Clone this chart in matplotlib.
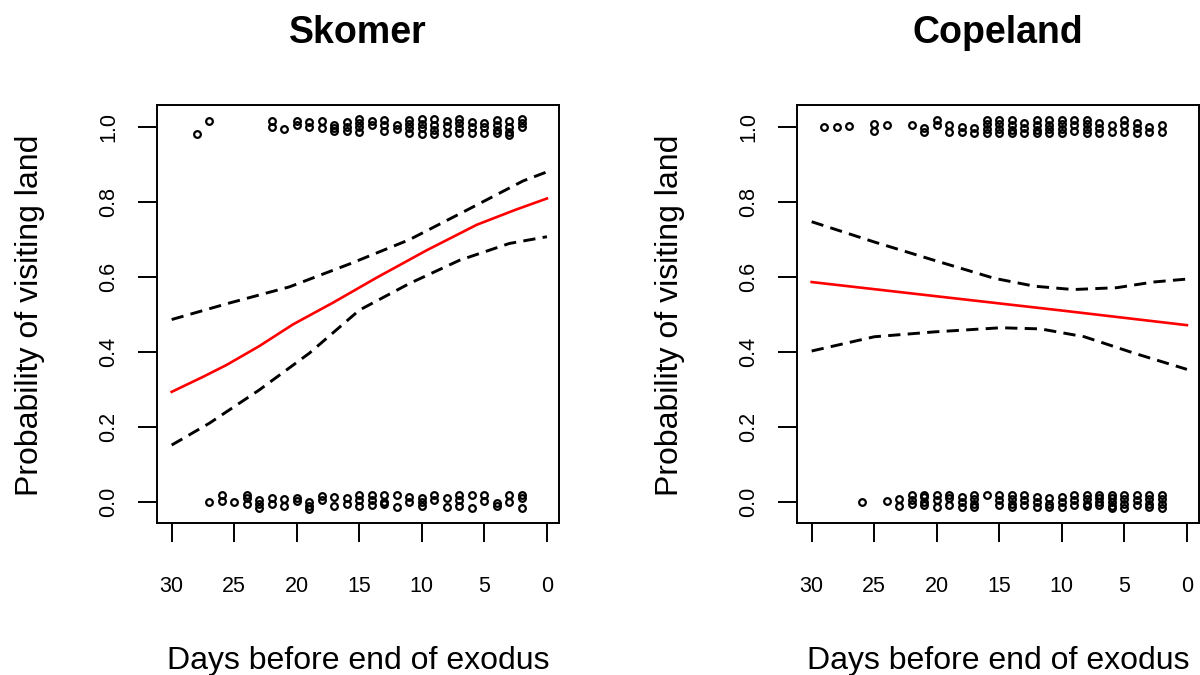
import matplotlib
matplotlib.use("Agg")
import matplotlib.pyplot as plt

plt.rcParams['font.family'] = ['Liberation Sans', 'DejaVu Sans']

# axis ticks
day_ticks = [30, 25, 20, 15, 10, 5, 0]
prob_ticks = [0.0, 0.2, 0.4, 0.6, 0.8, 1.0]

# ---- Skomer: observed birds (jittered 0/1), one list of y per day column
skomer_land_days = [28, 27, 22, 21, 20, 19, 18, 17, 16, 15, 14, 13, 12, 11, 10, 9, 8, 7, 6, 5, 4, 3, 2]
skomer_land_prob = [[0.982], [1.017], [1.017, 1.0], [0.995], [1.017, 1.006], [1.015, 1.0],
                    [1.017, 0.998], [1.006, 0.997, 0.991], [1.015, 1.0, 0.991],
                    [1.021, 1.011, 1.0, 0.988], [1.018, 1.006], [1.02, 1.006, 0.991],
                    [1.006, 0.995], [1.02, 1.009, 0.997, 0.986], [1.021, 1.009, 0.997, 0.983],
                    [1.021, 1.006, 0.993, 0.983], [1.017, 1.004, 0.986], [1.021, 1.011, 0.997, 0.986],
                    [1.015, 1.002, 0.986], [1.012, 1.0, 0.986], [1.02, 1.006, 0.993, 0.984],
                    [1.017, 1.002, 0.988, 0.98], [1.021, 1.011, 1.002]]
skomer_sea_days = [27, 26, 25, 24, 23, 22, 21, 20, 19, 18, 17, 16, 15, 14, 13, 12, 11, 10, 9, 8, 7, 6, 5, 4, 3, 2]
skomer_sea_prob = [[0.001], [0.019, 0.003], [0.001], [0.02, 0.01, -0.004], [0.005, -0.006, -0.017],
                   [0.012, -0.006], [0.008, -0.01], [0.01, 0.004], [0.001, -0.01, -0.019],
                   [0.017, 0.005], [0.014, -0.01], [0.01, -0.004], [0.019, 0.005, -0.01],
                   [0.02, 0.005, -0.008], [0.019, 0.001, -0.006], [0.019, -0.012], [0.014, 0.001],
                   [0.012, 0.001, -0.01], [0.019, 0.005], [0.01, -0.012], [0.019, 0.005, -0.01],
                   [0.02, -0.015], [0.019, 0.003], [-0.002, -0.01], [0.02, 0.001], [0.02, 0.012, -0.015]]

# Skomer fitted probability and confidence band
skomer_fit_days = [30, 27.5, 25.6, 23, 20.3, 17.1, 13.6, 9.6, 5.6, 2.5, 0]
skomer_fit = [0.294, 0.334, 0.366, 0.416, 0.474, 0.532, 0.599, 0.672, 0.740, 0.780, 0.810]
skomer_upper_days = [30, 25.5, 20.6, 15.8, 11, 6.4, 1.9, 0]
skomer_upper = [0.487, 0.530, 0.574, 0.635, 0.700, 0.779, 0.857, 0.881]
skomer_lower_days = [30, 27, 23, 19, 15, 11, 7, 3, 0]
skomer_lower = [0.152, 0.210, 0.299, 0.397, 0.512, 0.583, 0.645, 0.690, 0.708]

# ---- Copeland
copeland_land_days = [29, 28, 27, 25, 24, 22, 21, 20, 19, 18, 17, 16, 15, 14, 13, 12, 11, 10, 9, 8, 7, 6, 5, 4, 3, 2]
copeland_land_prob = [[1.002], [1.002], [1.004], [1.008, 0.99], [1.006], [1.006], [0.997, 0.988],
                      [1.02, 1.006], [1.006, 0.988], [1.002, 0.987], [0.997, 0.984],
                      [1.02, 1.008, 0.996, 0.985], [1.02, 1.008, 0.995, 0.984], [1.02, 1.005, 0.993, 0.985],
                      [1.011, 0.997, 0.984], [1.02, 1.006, 0.992, 0.984], [1.02, 1.006, 0.995, 0.985],
                      [1.02, 1.008, 0.996, 0.984], [1.02, 1.005, 0.99], [1.02, 1.008, 0.995, 0.984],
                      [1.011, 0.997, 0.985], [1.006, 0.988], [1.02, 1.006, 0.988],
                      [1.011, 0.997, 0.984], [1.002, 0.988], [1.006, 0.988]]
copeland_sea_days = [26, 24, 23, 22, 21, 20, 19, 18, 17, 16, 15, 14, 13, 12, 11, 10, 9, 8, 7, 6, 5, 4, 3, 2]
copeland_sea_prob = [[-0.001], [0.003], [0.007, -0.011], [0.019, 0.005, -0.004],
                     [0.02, 0.014, 0.001, -0.008], [0.019, 0.005, -0.014], [0.02, 0.01, -0.008],
                     [0.014, 0.001, -0.012], [0.02, 0.008, -0.004, -0.012], [0.019],
                     [0.019, 0.005, -0.008], [0.02, 0.008, -0.004, -0.012], [0.019, 0.005, -0.008],
                     [0.014, 0.001, -0.012], [0.01, -0.004, -0.014], [0.014, 0.001, -0.012],
                     [0.019, 0.005, -0.008], [0.02, 0.008, -0.004, -0.011], [0.02, 0.012, 0.0, -0.008],
                     [0.02, 0.01, 0.0, -0.01, -0.016], [0.02, 0.008, -0.004, -0.016],
                     [0.019, 0.005, -0.008], [0.02, 0.008, -0.004, -0.012], [0.02, 0.008, -0.004, -0.016]]

copeland_fit_days = [30, 20, 10, 0]
copeland_fit = [0.587, 0.549, 0.511, 0.472]
copeland_upper_days = [30, 25, 20.2, 15.4, 12.2, 9.1, 5.6, 2.7, 0]
copeland_upper = [0.748, 0.694, 0.645, 0.597, 0.576, 0.567, 0.572, 0.587, 0.595]
copeland_lower_days = [30, 25, 20.2, 14.9, 11.7, 8.2, 4.2, 0]
copeland_lower = [0.403, 0.441, 0.454, 0.465, 0.462, 0.441, 0.397, 0.354]


def flatten(days, probs):
    xs, ys = [], []
    for d, col in zip(days, probs):
        for p in col:
            xs.append(d)
            ys.append(p)
    return xs, ys


fig = plt.figure(figsize=(12, 6.75), dpi=100)

panels = [
    ("Skomer", 157.3, skomer_land_days, skomer_land_prob, skomer_sea_days, skomer_sea_prob,
     skomer_fit_days, skomer_fit, skomer_upper_days, skomer_upper, skomer_lower_days, skomer_lower),
    ("Copeland", 797.3, copeland_land_days, copeland_land_prob, copeland_sea_days, copeland_sea_prob,
     copeland_fit_days, copeland_fit, copeland_upper_days, copeland_upper, copeland_lower_days, copeland_lower),
]

W, H = 1200.0, 675.0
box_w = 402.0
box_top, box_bot = 105.0, 523.0

for (name, left, ld, lp, sd, sp, fd, fv, ud, uv, lwd, lwv) in panels:
    ax = fig.add_axes([left / W, 1 - box_bot / H, box_w / W, (box_bot - box_top) / H])

    # observed points
    for days, probs in [(ld, lp), (sd, sp)]:
        xs, ys = flatten(days, probs)
        ax.plot(xs, ys, 'o', ms=4.8, mfc='none', mec='black', mew=1.6, zorder=3)

    # model fit and CI
    ax.plot(fd, fv, color='red', lw=1.9, zorder=4)
    ax.plot(ud, uv, color='black', lw=2.1, ls=(0, (4.2, 2.5)), zorder=4)
    ax.plot(lwd, lwv, color='black', lw=2.1, ls=(0, (4.2, 2.5)), zorder=4)

    ax.set_xlim(31.15, -0.99)
    ax.set_ylim(-0.056, 1.0595)
    ax.set_xticks(day_ticks)
    ax.set_xticklabels([str(d) for d in day_ticks])
    ax.set_yticks(prob_ticks)
    ax.set_yticklabels(['%.1f' % p for p in prob_ticks], rotation=90, va='center')
    ax.tick_params(axis='both', direction='out', length=13.5, width=1.4, labelsize=15.5, colors='black')
    ax.tick_params(axis='x', pad=25)
    ax.tick_params(axis='y', pad=14)
    for s in ax.spines.values():
        s.set_linewidth(1.4)

    cx = (left + box_w / 2) / W
    fig.text(cx, 1 - 43 / H, name, ha='center', va='baseline', fontsize=27, fontweight='bold')
    fig.text(cx, 1 - 669 / H, "Days before end of exodus", ha='center', va='baseline', fontsize=23)
    fig.text((left - 127) / W, 1 - 315 / H, "Probability of visiting land", rotation=90,
             ha='center', va='center', fontsize=23)

fig.savefig("out.png", dpi=100)
